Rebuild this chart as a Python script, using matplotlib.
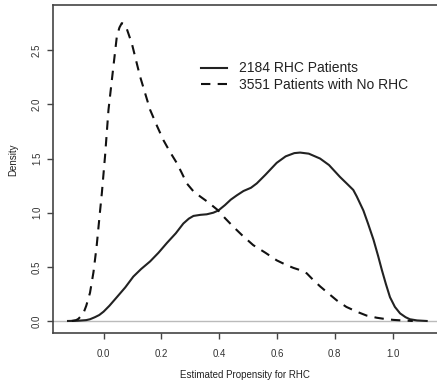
import matplotlib

matplotlib.use("Agg")

import matplotlib.pyplot as plt

plt.rcParams["font.family"] = ["Liberation Sans", "DejaVu Sans"]

# Density of estimated propensity
rhc_x = [-0.123, -0.09, -0.06, -0.047, -0.03, -0.015, 0.0, 0.02, 0.046, 0.075,
         0.103, 0.13, 0.161, 0.19, 0.219, 0.25, 0.276, 0.295, 0.311, 0.335,
         0.357, 0.38, 0.397, 0.42, 0.44, 0.461, 0.484, 0.51, 0.53, 0.56,
         0.599, 0.63, 0.66, 0.68, 0.71, 0.749, 0.78, 0.818, 0.845, 0.864,
         0.876, 0.899, 0.915, 0.934, 0.95, 0.963, 0.977, 0.991, 1.008, 1.026,
         1.045, 1.06, 1.085, 1.118]
rhc_y = [0.0, 0.002, 0.008, 0.016, 0.035, 0.055, 0.086, 0.14, 0.22, 0.31,
         0.41, 0.48, 0.55, 0.63, 0.72, 0.81, 0.90, 0.945, 0.97, 0.98,
         0.985, 1.0, 1.02, 1.07, 1.12, 1.16, 1.20, 1.23, 1.27, 1.35,
         1.46, 1.52, 1.55, 1.555, 1.545, 1.50, 1.44, 1.33, 1.26, 1.21,
         1.15, 1.02, 0.90, 0.75, 0.60, 0.47, 0.34, 0.22, 0.13, 0.07,
         0.035, 0.016, 0.005, 0.0]

norhc_x = [-0.11, -0.095, -0.087, -0.07, -0.06, -0.047, -0.035, -0.024, -0.012, -0.006,
           0.005, 0.017, 0.034, 0.046, 0.055, 0.063, 0.072, 0.080, 0.098, 0.126,
           0.161, 0.185, 0.207, 0.23, 0.253, 0.27, 0.288, 0.31, 0.334, 0.36,
           0.397, 0.42, 0.449, 0.48, 0.518, 0.56, 0.599, 0.63, 0.657, 0.68,
           0.703, 0.725, 0.749, 0.78, 0.807, 0.84, 0.876, 0.91, 0.945, 0.975,
           1.003, 1.04, 1.07]
norhc_y = [0.0, 0.008, 0.02, 0.07, 0.14, 0.26, 0.45, 0.69, 1.02, 1.18,
           1.52, 1.95, 2.35, 2.63, 2.71, 2.75, 2.74, 2.70, 2.56, 2.26,
           1.95, 1.80, 1.67, 1.56, 1.46, 1.37, 1.27, 1.20, 1.15, 1.10,
           1.02, 0.95, 0.87, 0.79, 0.70, 0.63, 0.56, 0.52, 0.49, 0.47,
           0.44, 0.38, 0.32, 0.25, 0.19, 0.13, 0.086, 0.05, 0.03, 0.018,
           0.01, 0.004, 0.0]

labels = ["2184 RHC Patients", "3551 Patients with No RHC"]
xticks = [0.0, 0.2, 0.4, 0.6, 0.8, 1.0]
yticks = [0.0, 0.5, 1.0, 1.5, 2.0, 2.5]

fig = plt.figure(figsize=(4.37, 3.83), dpi=100)
ax = fig.add_axes([53 / 437, 50 / 383, 384 / 437, 328 / 383])

ax.axhline(0, color="#bbbbbb", lw=1, zorder=1)
ax.plot(rhc_x, rhc_y, color="#222222", lw=1.5, label=labels[0], zorder=3)
ax.plot(norhc_x, norhc_y, color="#111111", lw=1.5, ls=(0, (4.5, 3.5)),
        label=labels[1], zorder=3)

ax.set_xlim(-0.175, -0.175 + 384 / 289)
ax.set_ylim(-0.111, -0.111 + 328 / 108.3)

ax.set_xticks(xticks)
ax.set_xticklabels([f"{t:.1f}" for t in xticks])
ax.set_yticks(yticks)
ax.set_yticklabels([f"{t:.1f}" for t in yticks], rotation=90, va="center")

ax.tick_params(axis="both", direction="out", length=4.3, width=1,
               color="#444444", labelsize=7, labelcolor="#333333")
ax.tick_params(axis="x", pad=7)
ax.tick_params(axis="y", pad=3.6)

for side in ["left", "bottom", "top"]:
    ax.spines[side].set_color("#444444")
    ax.spines[side].set_linewidth(1.2)
ax.spines["right"].set_visible(False)

ax.set_xlabel("Estimated Propensity for RHC", fontsize=7, color="#222222")
ax.set_ylabel("Density", fontsize=7, color="#222222")
ax.xaxis.label.set_va("center")
ax.yaxis.label.set_va("center")
ax.xaxis.set_label_coords(0.5, (333 - 375) / 328)
ax.yaxis.set_label_coords((13 - 53) / 384, (333 - 160) / 328)

leg = ax.legend(frameon=False, fontsize=10, handlelength=1.9,
                handletextpad=0.85, labelspacing=0.15,
                loc="upper left",
                bbox_to_anchor=((200 - 53) / 384 - 0.031, (333 - 49) / 328))
for t in leg.get_texts():
    t.set_color("#222222")

fig.savefig("out.png", dpi=100)
